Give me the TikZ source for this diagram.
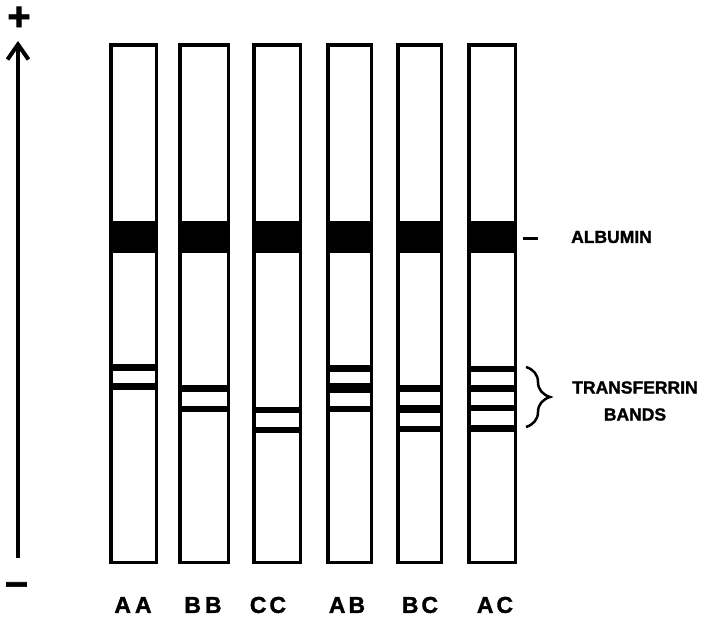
\documentclass[tikz,border=0pt]{standalone}
\usepackage{fontspec}
\setmainfont{Liberation Sans}[BoldFeatures={FakeBold=1.5}]
\usetikzlibrary{arrows.meta,decorations.pathreplacing}
\begin{document}
\begin{tikzpicture}[x=1pt,y=-1pt,
  strip/.style={line width=3.5pt},
  lab/.style={font=\fontsize{23}{23}\selectfont\bfseries, inner sep=0pt},
  side/.style={font=\fontsize{17.5}{27}\selectfont\bfseries, align=center, inner sep=0pt},
  sign/.style={font=\fontsize{40}{40}\selectfont\bfseries, inner sep=0pt}]
\useasboundingbox (0,0) rectangle (705,618);
% strips with albumin band
\foreach \l/\r in {110.8/156.3, 179.8/228.3, 253.8/300.3, 327.8/371.3, 397.8/441.3, 468.8/515.3} {
  \draw[strip] (\l,44.8) rectangle (\r,562.3);
  \fill (\l,221) rectangle (\r,253);
}
% transferrin bands
\newcommand\tfbands[3]{\foreach \a/\b in {#3} {\fill (#1,\a) rectangle (#2,\b);}}
\tfbands{110.8}{156.3}{364/371, 383/390}
\tfbands{179.8}{228.3}{385/392, 406/412}
\tfbands{253.8}{300.3}{407/413, 427/433}
\tfbands{327.8}{371.3}{365/372, 383/393, 406/412}
\tfbands{397.8}{441.3}{385/392, 405/413, 426/432}
\tfbands{468.8}{515.3}{366/372, 385/392, 405/411, 425/432}
% labels
\node[lab] (lAA) at (133,605) {A\hspace{4pt}A};
\node[lab] (lBB) at (203,605) {B\hspace{4pt}B};
\node[lab] (lCC) at (268,605) {C\hspace{3pt}C};
\node[lab] (lAB) at (347,605) {A\hspace{3pt}B};
\node[lab] (lBC) at (420,605) {B\hspace{3pt}C};
\node[lab] (lAC) at (495,605) {A\hspace{3pt}C};
% albumin marker
\coordinate (d1) at (523,238);
\coordinate (d2) at (538,238);
\draw[line width=3pt] (d1) -- (d2);
\node[side, anchor=west] (alb) at (571,237) {ALBUMIN};
% transferrin brace
\coordinate (b1) at (526,367);
\coordinate (b2) at (526,427);
\draw[line width=2.5pt, decorate, decoration={brace, amplitude=24pt}] (b1) -- (b2);
\node[side] (tf) at (635,401) {TRANSFERRIN\\BANDS};
% axis
\coordinate (ab) at (18,558);
\coordinate (at) at (18,41);
\draw[line width=4pt, -{Straight Barb[length=15pt,width=21pt]}] (ab) -- (at);
\node[sign] (plus) at (19,18.5) {+};
\node[sign] (minus) at (16.5,590) {−};
\end{tikzpicture}
\end{document}
